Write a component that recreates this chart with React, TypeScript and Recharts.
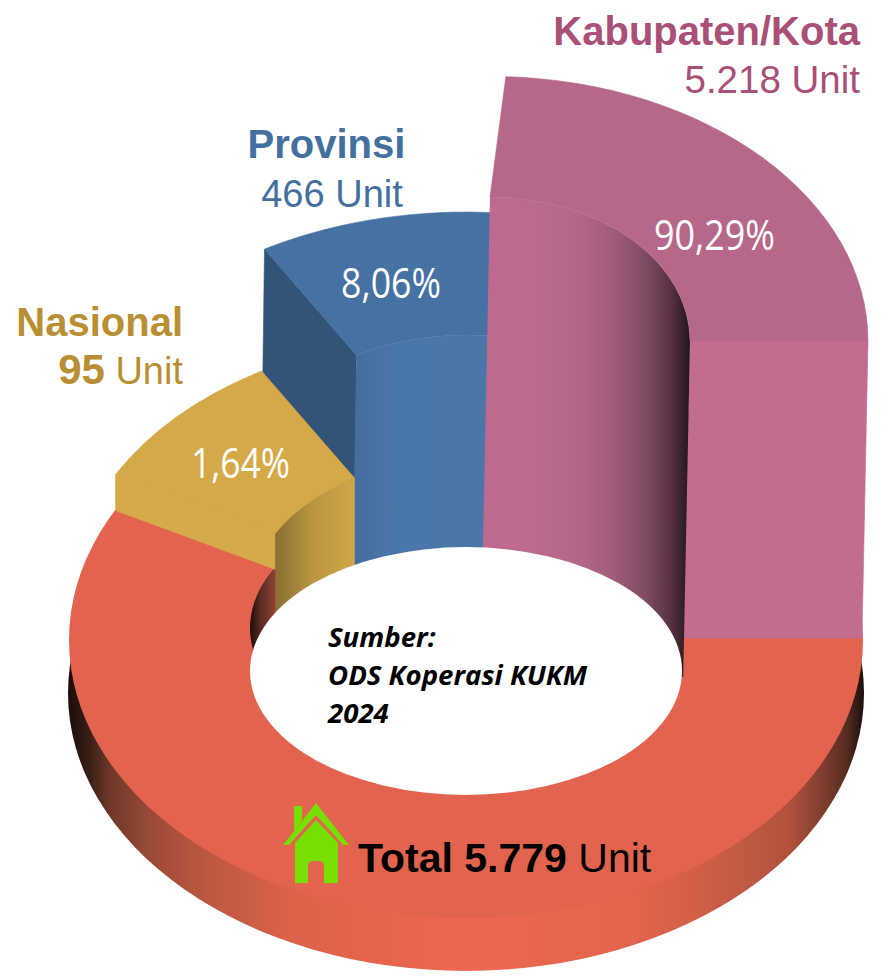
import React from "react";
import { PieChart, Pie } from "recharts";

// values
const categories = ["Nasional", "Provinsi", "Kabupaten/Kota"];
const units = [95, 466, 5218];
const unitLabels = ["95", "466", "5.218"];
const shareLabels = ["1,64%", "8,06%", "90,29%"];
const totalName = "Total";
const totalUnits = 5779;
const totalLabel = "5.779";
const sourceLines = ["Sumber:", "ODS Koperasi KUKM", "2024"];

const sans = "'Liberation Sans', Arial, sans-serif";
const humanist = "'Open Sans', 'Noto Sans', sans-serif";

// drawn angles and extrusion of each block; the source slices are not to scale
const blocks = [
  {
    cx: 466, cy: 600, outer: 397, inner: 216, tiltOuter: 0.673, tiltInner: 0.657,
    start: 152, end: 121, skew: 0, cutAngle: 152, cutHeight: 36, lean: 0, wallLeanHi: 0, floorY: 640,
    top: "#d4aa48", cut: "#d5ab4a",
    wall: [["0%", "#8a6e34"], ["45%", "#b8953f"], ["100%", "#cfa749"]],
  },
  {
    cx: 466, cy: 480, outer: 397, inner: 216, tiltOuter: 0.675, tiltInner: 0.671,
    start: 120.5, end: 70, skew: 0, cutAngle: 120.5, cutHeight: 150, lean: -2, wallLeanHi: -5, floorY: 640,
    top: "#4671a3", cut: "#325478",
    wall: [["0%", "#456e9e"], ["40%", "#4a77aa"], ["100%", "#4a76a8"]],
  },
  {
    cx: 490, cy: 341, outer: 378, inner: 200, tiltOuter: 0.7, tiltInner: 0.72,
    start: 90, end: 0, skew: -2.4, cutAngle: 0, cutHeight: 297, lean: -6, wallLeanHi: -9.6, floorY: 677,
    top: "#b5688a", cut: "#c26d90",
    wall: [["0%", "#be6a90"], ["22%", "#bd6a8f"], ["45%", "#b4668a"], ["61%", "#a05c7c"], ["78%", "#7e4a63"], ["91%", "#55303f"], ["100%", "#1f1620"]],
  },
];

// back to front
const drawOrder = [1, 0, 2];

const rimStops = [
  ["0%", "#1c0e0a"], ["2.6%", "#3a1f17"], ["5%", "#6b3728"], ["10%", "#9a4a36"],
  ["16%", "#b8553f"], ["23%", "#cc5e47"], ["28%", "#dc6249"], ["50%", "#ee6850"],
  ["72%", "#e2644c"], ["84%", "#c45b45"], ["91%", "#b0503b"], ["94%", "#8a4233"],
  ["98%", "#552c20"], ["100%", "#1e100c"],
];

const pt = (cx: number, cy: number, rx: number, ry: number, deg: number) => {
  const a = (deg * Math.PI) / 180;
  return [cx + rx * Math.cos(a), cy - ry * Math.sin(a)];
};

// extruded ring sector: wall, cut face and top, squashed from the sector Recharts hands over
const BlockShape = (props: any) => {
  const { cx, cy, innerRadius, outerRadius, startAngle, endAngle, payload } = props;
  const b = payload.block;
  const rxO = outerRadius;
  const ryO = outerRadius * b.tiltOuter;
  const rxI = innerRadius;
  const ryI = innerRadius * b.tiltInner;
  const lo = Math.min(startAngle, endAngle);
  const hi = Math.max(startAngle, endAngle);

  const iLo = pt(cx, cy, rxI, ryI, lo);
  const iHi = pt(cx, cy, rxI, ryI, hi);
  const oLo = pt(cx, cy, rxO, ryO, lo);
  const oHi = pt(cx, cy, rxO, ryO, hi + b.skew);

  const top = `M${oHi} A${rxO} ${ryO} 0 0 1 ${oLo} L${iLo} A${rxI} ${ryI} 0 0 0 ${iHi} Z`;

  const wallLean = (b.lean * (b.floorY - iLo[1])) / Math.max(b.cutHeight, 1);
  const wall = `M${iHi} A${rxI} ${ryI} 0 0 1 ${iLo} L${iLo[0] + wallLean} ${b.floorY} L${iHi[0] + b.wallLeanHi} ${b.floorY} Z`;

  const cO = pt(cx, cy, rxO, ryO, b.cutAngle);
  const cI = pt(cx, cy, rxI, ryI, b.cutAngle);
  const cut = `M${cO} L${cI} L${cI[0] + b.lean} ${cI[1] + b.cutHeight} L${cO[0] + b.lean} ${cO[1] + b.cutHeight} Z`;

  const gradId = `wall-${b.start}`;
  const wallEnd = b.end === 70 ? pt(cx, cy, rxI, ryI, 90) : iLo;
  return (
    <g>
      <defs>
        <linearGradient id={gradId} gradientUnits="userSpaceOnUse" x1={iHi[0]} x2={wallEnd[0]} y1={0} y2={0}>
          {b.wall.map(([o, c]: string[]) => (
            <stop key={o} offset={o} stopColor={c} />
          ))}
        </linearGradient>
      </defs>
      <path d={cut} fill={b.cut} stroke={b.cut} strokeWidth={0.6} />
      <path d={wall} fill={`url(#${gradId})`} />
      <path d={top} fill={b.top} stroke={b.top} strokeWidth={0.6} />
    </g>
  );
};

// the base disc with its dark rim and the visible bit of its inner wall
const BaseShape = (props: any) => {
  const { cx, cy, outerRadius } = props;
  const ry = outerRadius * 0.7;
  return (
    <g>
      <defs>
        <linearGradient id="rim" gradientUnits="userSpaceOnUse" x1={cx - outerRadius} x2={cx + outerRadius} y1={0} y2={0}>
          {rimStops.map(([o, c]) => (
            <stop key={o} offset={o} stopColor={c} />
          ))}
        </linearGradient>
        <linearGradient id="hole" gradientUnits="userSpaceOnUse" x1={250} x2={274} y1={0} y2={0}>
          <stop offset="0%" stopColor="#1e0e0a" />
          <stop offset="45%" stopColor="#5c2c22" />
          <stop offset="100%" stopColor="#8c4032" />
        </linearGradient>
      </defs>
      <ellipse cx={cx} cy={cy + 53} rx={outerRadius + 1} ry={ry} fill="url(#rim)" />
      <ellipse cx={cx} cy={cy} rx={outerRadius} ry={ry} fill="#e2644f" />
      <ellipse cx={cx} cy={cy - 12} rx={216} ry={130} fill="url(#hole)" />
    </g>
  );
};

// white floor of the hole, drawn after the walls so it trims them
const FloorShape = (props: any) => {
  const { cx, cy, outerRadius } = props;
  return <ellipse cx={cx} cy={cy} rx={outerRadius} ry={outerRadius * 0.574} fill="#ffffff" />;
};

const App = () => {
  return (
    <div style={{ position: "absolute", left: 0, top: 0, width: 884, height: 980, background: "#fff" }}>
      <PieChart width={884} height={980} margin={{ top: 0, right: 0, bottom: 0, left: 0 }}>
        <Pie
          data={[{ name: totalName, units: totalUnits }]}
          dataKey="units"
          cx={466}
          cy={640}
          innerRadius={216}
          outerRadius={397}
          startAngle={0}
          endAngle={360}
          stroke="none"
          shape={BaseShape}
          isAnimationActive={false}
        />
        {drawOrder.map((i) => (
          <Pie
            key={categories[i]}
            data={[{ name: categories[i], units: units[i], block: blocks[i] }]}
            dataKey="units"
            cx={blocks[i].cx}
            cy={blocks[i].cy}
            innerRadius={blocks[i].inner}
            outerRadius={blocks[i].outer}
            startAngle={blocks[i].start}
            endAngle={blocks[i].end}
            stroke="none"
            shape={BlockShape}
            isAnimationActive={false}
          />
        ))}
        <Pie
          data={[{ name: "Sumber", units: totalUnits }]}
          dataKey="units"
          cx={466}
          cy={671}
          innerRadius={0}
          outerRadius={216}
          startAngle={0}
          endAngle={360}
          stroke="none"
          shape={FloorShape}
          isAnimationActive={false}
        />
      </PieChart>

      {/* all text sits in an overlay above the chart */}
      <svg width={884} height={980} style={{ position: "absolute", left: 0, top: 0 }}>
        <g fontFamily={sans}>
          <text x={860} y={45} textAnchor="end" fontSize={40} fontWeight={700} fill="#a94f78">{categories[2]}</text>
          <text x={860} y={93} textAnchor="end" fontSize={38.5} fill="#a94f78">{unitLabels[2]} Unit</text>
          <text x={326.5} y={158} textAnchor="middle" fontSize={40} fontWeight={700} fill="#44709f">{categories[1]}</text>
          <text x={332} y={207} textAnchor="middle" fontSize={38} fill="#44709f">{unitLabels[1]} Unit</text>
          <text x={183} y={336} textAnchor="end" fontSize={40} fontWeight={700} fill="#b98f33">{categories[0]}</text>
          <text x={183} y={384} textAnchor="end" fontSize={38} fill="#b98f33">
            <tspan fontWeight={700} fontSize={42}>{unitLabels[0]}</tspan> Unit
          </text>
          <text x={358} y={872} fontSize={41} fill="#000">
            <tspan fontWeight={700}>{totalName} {totalLabel}</tspan> Unit
          </text>
        </g>
        <g fontFamily={humanist} fontSize={42} fill="#fff">
          <text x={654} y={250} textLength={121} lengthAdjust="spacingAndGlyphs">{shareLabels[2]}</text>
          <text x={341} y={298} textLength={100} lengthAdjust="spacingAndGlyphs">{shareLabels[1]}</text>
          <text x={191} y={478} textLength={99} lengthAdjust="spacingAndGlyphs">{shareLabels[0]}</text>
        </g>
        <g fontFamily={humanist} fontSize={27.6} fontWeight={700} fontStyle="italic" fill="#000">
          {sourceLines.map((line, i) => (
            <text key={line} x={328} y={647 + i * 38}>{line}</text>
          ))}
        </g>
        {/* house icon */}
        <g fill="#77e000">
          <path d="M294 806 H302 V820 L294 831 Z" />
          <path d="M316 803 L349 845 H343 L316 815 L289 845 H283 Z" />
          <path d="M316 820 L338 843 V883 H324 V866 Q324 861 319 861 H313 Q308 861 308 866 V883 H295 V843 Z" />
        </g>
      </svg>
    </div>
  );
};

export default App;
